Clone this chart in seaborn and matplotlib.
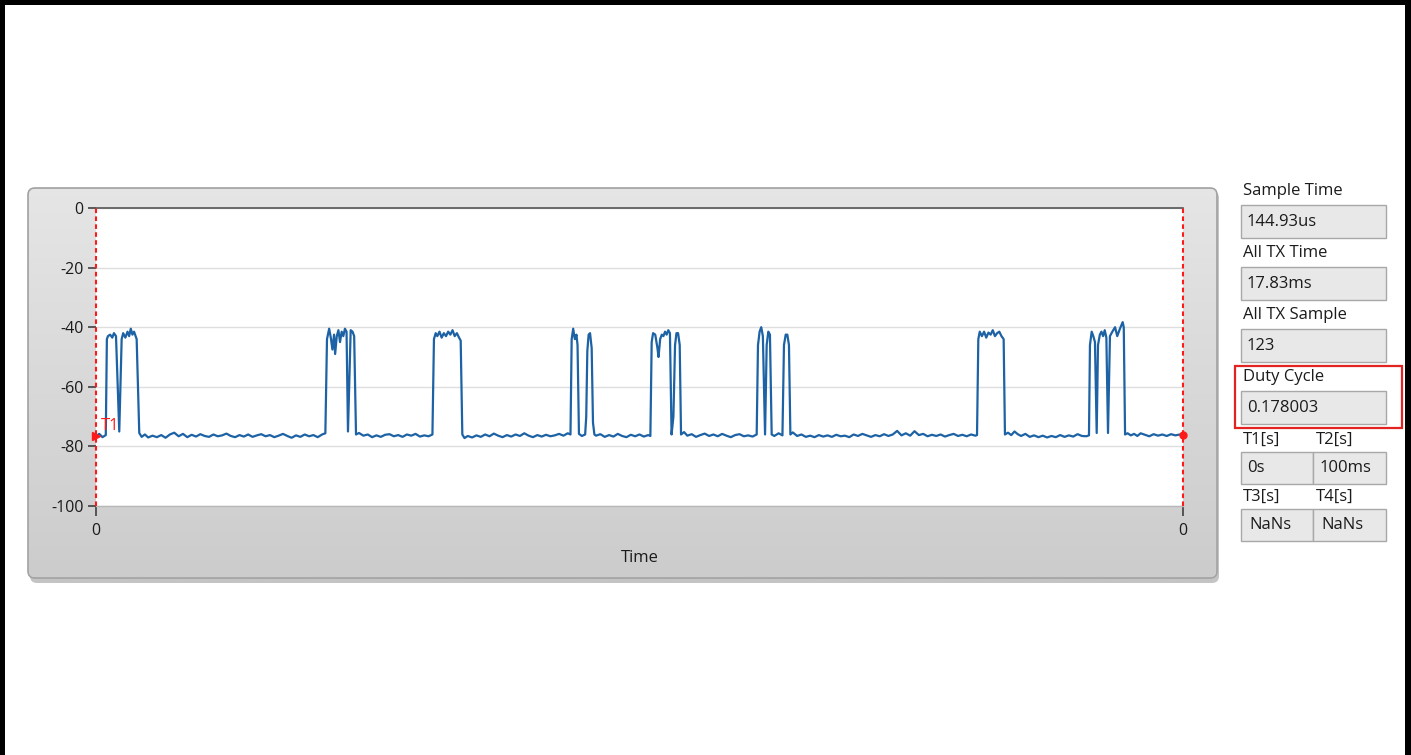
import numpy as np
import matplotlib
matplotlib.use("Agg")
import matplotlib.pyplot as plt
from matplotlib.patches import FancyBboxPatch, Rectangle
import seaborn as sns

# ---------------- data ----------------
time_ms = [
    0.0, 0.3, 0.6, 0.9,
    1.0, 1.1, 1.3, 1.5, 1.65, 1.84, 2.14, 2.36, 2.5, 2.7, 2.9, 3.05, 3.2, 3.35, 3.5, 3.65, 3.74, 3.98,
    4.2, 4.5, 4.8, 5.2, 5.6, 6.0, 6.4, 6.8, 7.2, 7.6, 8.0, 8.4, 8.8, 9.2, 9.6, 10.0, 10.4, 10.8,
    11.2, 11.6, 12.0, 12.4, 12.8, 13.2, 13.6, 14.0, 14.4, 14.8, 15.2, 15.6, 16.0, 16.4, 16.8,
    17.2, 17.6, 18.0, 18.4, 18.8, 19.2, 19.6, 20.0, 20.4, 20.8, 21.1,
    21.25, 21.45, 21.6, 21.75, 21.9, 22.0, 22.15, 22.3, 22.45, 22.6, 22.75, 22.9, 23.05, 23.18,
    23.43, 23.6, 23.75, 23.92,
    24.2, 24.6, 25.0, 25.4, 25.8, 26.2, 26.6, 27.0, 27.4, 27.8, 28.2, 28.6, 29.0, 29.4, 29.8,
    30.2, 30.6, 30.95,
    31.09, 31.25, 31.4, 31.6, 31.8, 32.0, 32.2, 32.4, 32.6, 32.8, 33.0, 33.2, 33.4, 33.55, 33.7,
    33.9, 34.2, 34.6, 35.0, 35.4, 35.8, 36.2, 36.6, 37.0, 37.4, 37.8, 38.2, 38.6, 39.0, 39.4,
    39.8, 40.2, 40.6, 41.0, 41.4, 41.8, 42.2, 42.6, 43.0, 43.4, 43.65,
    43.76, 43.9, 44.05, 44.2, 44.3, 44.43, 44.7, 45.0, 45.1, 45.2, 45.32, 45.45, 45.6, 45.72, 45.85,
    46.0, 46.4, 46.8, 47.2, 47.6, 48.0, 48.4, 48.8, 49.2, 49.6, 50.0, 50.4, 50.8, 51.0,
    51.12, 51.25, 51.45, 51.65, 51.75, 51.9, 52.05, 52.2, 52.35, 52.5, 52.65, 52.8, 52.95,
    53.12, 53.27, 53.4, 53.55, 53.7, 53.82,
    54.1, 54.4, 54.8, 55.2, 55.6, 56.0, 56.4, 56.8, 57.2, 57.6, 58.0, 58.4, 58.8, 59.2, 59.6,
    60.0, 60.4, 60.78,
    60.9, 61.05, 61.2, 61.35, 61.45, 61.55, 61.7, 61.85, 62.0, 62.16,
    62.4, 62.8, 63.15,
    63.29, 63.45, 63.6, 63.75, 63.88,
    64.1, 64.5, 64.9, 65.3, 65.7, 66.1, 66.5, 66.9, 67.3, 67.7, 68.1, 68.5, 68.9, 69.3, 69.7,
    70.1, 70.5, 70.9, 71.3, 71.7, 72.1, 72.5, 72.9, 73.3, 73.7, 74.1, 74.5, 74.9, 75.3, 75.7,
    76.1, 76.5, 76.9, 77.3, 77.7, 78.1, 78.5, 78.9, 79.3, 79.7, 80.1, 80.5, 80.9, 81.05,
    81.17, 81.3, 81.5, 81.7, 81.9, 82.1, 82.3, 82.5, 82.7, 82.9, 83.1, 83.3, 83.5, 83.62,
    83.9, 84.2, 84.5, 84.8, 85.1, 85.5, 85.9, 86.3, 86.7, 87.1, 87.5, 87.9, 88.3, 88.7, 89.1,
    89.5, 89.9, 90.3, 90.7, 91.1, 91.35,
    91.44, 91.6, 91.75, 91.9, 92.06, 92.18, 92.35, 92.5, 92.65, 92.8, 92.95, 93.1,
    93.28, 93.5, 93.75, 93.95, 94.2, 94.45, 94.55, 94.67,
    94.9, 95.2, 95.5, 95.8, 96.1, 96.5, 96.9, 97.3, 97.7, 98.1, 98.5, 98.9, 99.3, 99.7, 100.0,
]

level_db = [
    -76.5, -75.8, -76.9, -76.2,
    -44.0, -43.0, -42.5, -43.5, -42.0, -43.0, -75.0, -44.0, -42.0, -43.5, -41.5, -43.0, -40.5, -42.5, -41.5, -43.0, -44.0, -75.5,
    -76.8, -76.0, -77.0, -76.4, -76.9, -76.2, -77.1, -76.0, -75.4, -76.6, -75.8, -76.9, -76.1, -76.7, -75.9, -76.5, -76.8, -76.0,
    -76.6, -76.3, -75.7, -76.5, -76.9, -76.2, -76.7, -76.0, -76.8, -76.3, -75.9, -76.6, -76.2, -76.9, -76.4,
    -75.8, -76.5, -77.1, -76.3, -76.8, -76.0, -76.6, -76.2, -76.9, -76.0, -75.6,
    -44.0, -40.5, -43.5, -47.5, -42.5, -49.0, -43.0, -41.0, -45.0, -41.5, -43.0, -40.5, -41.5, -75.0,
    -41.0, -41.5, -43.0, -76.0,
    -75.5, -76.4, -76.0, -76.9, -76.3, -76.8, -76.1, -75.9, -76.6, -76.2, -76.8, -76.0, -76.4, -75.8, -76.7,
    -76.3, -76.6, -76.0,
    -44.0, -42.0, -43.0, -41.5, -43.5, -42.0, -43.0, -41.5, -42.5, -41.0, -43.0, -42.0, -43.5, -44.5, -76.0,
    -77.2, -76.5, -77.0, -76.3, -76.8, -76.0, -76.6, -75.7, -76.4, -76.9, -76.2, -76.7, -76.0, -76.5, -75.6,
    -76.4, -76.9, -76.2, -76.7, -76.1, -76.6, -76.3, -75.8, -76.4, -75.6, -76.0,
    -44.0, -40.5, -44.0, -42.5, -46.0, -75.8, -76.5, -76.0, -70.0, -48.0, -42.5, -42.0, -47.0, -72.0, -76.0,
    -76.4, -75.9, -76.8, -76.2, -76.7, -75.8, -76.5, -76.9, -76.1, -76.6, -76.0, -76.7, -76.2, -76.5,
    -45.0, -42.0, -42.5, -47.0, -50.0, -44.0, -42.5, -43.0, -41.5, -42.5, -41.0, -42.0, -76.0,
    -70.0, -46.0, -42.0, -42.0, -46.0, -76.0,
    -75.2, -76.4, -75.9, -76.8, -76.2, -75.7, -76.5, -76.0, -76.6, -75.8, -76.4, -76.9, -76.2, -75.9, -76.6,
    -76.3, -76.7, -76.0,
    -46.0, -41.5, -40.0, -43.0, -60.0, -76.0, -46.0, -41.5, -42.5, -76.0,
    -76.5, -75.6, -76.3,
    -46.0, -42.5, -42.5, -46.0, -76.0,
    -75.3, -76.5, -76.0, -76.8, -76.4, -76.9, -76.2, -76.7, -76.3, -76.8, -76.1, -76.6, -76.4, -76.9, -76.0,
    -76.5, -75.8, -76.3, -76.8, -76.2, -76.6, -75.9, -76.5, -76.0, -74.8, -76.3, -75.6, -76.4, -74.9, -76.2,
    -75.8, -76.6, -76.1, -76.5, -76.0, -76.7, -76.2, -75.8, -76.5, -76.1, -76.6, -76.0, -76.4, -76.2,
    -44.0, -41.5, -43.0, -41.5, -43.5, -41.8, -42.5, -41.0, -43.0, -42.0, -41.5, -43.0, -44.0, -76.0,
    -75.4, -76.2, -75.0, -75.9, -76.5, -75.8, -76.8, -76.3, -76.9, -76.4, -77.0, -76.5, -76.9, -76.2, -76.8,
    -76.3, -76.7, -75.9, -76.5, -76.6, -76.3,
    -46.0, -41.5, -43.0, -45.0, -75.5, -46.0, -42.5, -41.5, -43.0, -41.0, -43.5, -75.5,
    -43.0, -41.5, -40.0, -43.0, -40.5, -38.3, -40.0, -76.0,
    -75.6, -76.3, -75.8, -76.5, -75.6, -76.1, -76.6, -75.9, -76.4, -76.0, -76.5, -75.9, -76.3, -76.0, -76.2,
]

y_ticks = [0, -20, -40, -60, -80, -100]
x_ticks = [0, 100]
x_tick_labels = ["0", "0"]
x_label = "Time"
cursor_label = "T1"

field_labels = ["Sample Time", "All TX Time", "All TX Sample", "Duty Cycle"]
field_values = ["144.93us", "17.83ms", "123", "0.178003"]
cursor_labels = ["T1[s]", "T2[s]", "T3[s]", "T4[s]"]
cursor_values = ["0s", "100ms", "NaNs", "NaNs"]

# ---------------- style ----------------
sns.set_style("white")
plt.rcParams["font.family"] = ["Open Sans", "DejaVu Sans"]
TXT = "#1b1b1b"

W, H = 1411, 755
fig = plt.figure(figsize=(W / 100, H / 100), dpi=100)
fig.patch.set_facecolor("white")

# background axes in pixel coordinates
bg = fig.add_axes([0, 0, 1, 1])
bg.axis("off")

# panel shadow + panel
shadow = FancyBboxPatch((30, 191), 1189, 392, boxstyle="round,pad=0,rounding_size=7",
                        facecolor="#c4c4c4", edgecolor="none", zorder=1)
bg.add_patch(shadow)
panel = FancyBboxPatch((28, 188), 1189, 390, boxstyle="round,pad=0,rounding_size=7",
                       facecolor="#d5d5d5", edgecolor="#a2a2a2", linewidth=1.2, zorder=2)
bg.add_patch(panel)
grad = np.linspace(0, 1, 200)[:, None]
top_c = np.array([0.90, 0.90, 0.90])
bot_c = np.array([0.80, 0.80, 0.80])
img = top_c[None, None, :] * (1 - grad[:, :, None]) + bot_c[None, None, :] * grad[:, :, None]
im = bg.imshow(img, extent=(29, 1216, 577, 189), aspect="auto", zorder=2.5, origin="upper")
clip = FancyBboxPatch((29, 189), 1187, 388, boxstyle="round,pad=0,rounding_size=6",
                      facecolor="none", edgecolor="none", transform=bg.transData)
bg.add_patch(clip)
im.set_clip_path(clip)

# outer black frame
bg.add_patch(Rectangle((0, 0), W, 5, facecolor="black", edgecolor="none", zorder=5))
bg.add_patch(Rectangle((0, 0), 5, H, facecolor="black", edgecolor="none", zorder=5))
bg.add_patch(Rectangle((1405, 0), 6, H, facecolor="black", edgecolor="none", zorder=5))

# right side indicators
label_y = [191, 253, 315, 377]
box_y = [205, 267, 329, 391]
for lab, val, ly, by in zip(field_labels, field_values, label_y, box_y):
    bg.text(1243, ly, lab, fontsize=12, color=TXT, ha="left", va="center", zorder=6)
    bg.add_patch(Rectangle((1241, by), 145, 33, facecolor="#e8e8e8", edgecolor="#a8a8a8",
                           linewidth=1, zorder=6))
    bg.text(1247, by + 17, val, fontsize=12, color=TXT, ha="left", va="center", zorder=7)

bg.add_patch(Rectangle((1235, 366), 167, 62, facecolor="none", edgecolor="#e32222",
                       linewidth=1.6, zorder=8))

cur_label_pos = [(1243, 440), (1316, 440), (1243, 497), (1316, 497)]
cur_box = [(1241, 452, 72), (1313, 452, 73), (1241, 509, 72), (1313, 509, 73)]
cur_val_x = [1247, 1320, 1249, 1321]
for lab, val, (lx, ly), (bx, by, bw), vx in zip(cursor_labels, cursor_values, cur_label_pos, cur_box, cur_val_x):
    bg.text(lx, ly, lab, fontsize=12, color=TXT, ha="left", va="center", zorder=6)
    bg.add_patch(Rectangle((bx, by), bw, 32, facecolor="#e8e8e8", edgecolor="#a8a8a8",
                           linewidth=1, zorder=6))
    bg.text(vx, by + 16, val, fontsize=12, color=TXT, ha="left", va="center", zorder=7)

bg.set_xlim(0, W)
bg.set_ylim(H, 0)

# ---------------- data axes ----------------
ax = fig.add_axes([96 / W, (H - 506) / H, (1183 - 96) / W, (506 - 208) / H])
ax.set_facecolor("white")
sns.lineplot(x=time_ms, y=level_db, ax=ax, color="#1d62a4", linewidth=1.6,
             estimator=None, sort=False, zorder=3)
ax.set_xlim(0, 100)
ax.set_ylim(-100, 0)
ax.set_yticks(y_ticks)
ax.set_yticklabels([str(v) for v in y_ticks])
ax.set_xticks(x_ticks)
ax.set_xticklabels(x_tick_labels)
ax.tick_params(axis="both", direction="out", length=6, width=1.1, color="#333333",
               labelsize=11.5, labelcolor=TXT, pad=3, left=True, bottom=True)
ax.tick_params(axis="x", pad=5, length=7)
ax.grid(axis="y", color="#dedede", linewidth=1)
ax.set_axisbelow(True)
ax.set_xlabel(x_label, fontsize=12, color=TXT, labelpad=8)
ax.set_ylabel("")
for side in ["left", "right"]:
    ax.spines[side].set_visible(False)
ax.spines["top"].set_color("#555555")
ax.spines["top"].set_linewidth(1.2)
ax.spines["bottom"].set_color("#b8b8b8")
ax.spines["bottom"].set_linewidth(1)

# cursors
ax.axvline(x_ticks[0], color="#ff1a1a", linestyle=(0, (2.2, 1.6)), linewidth=1.5, zorder=4, clip_on=False)
ax.axvline(x_ticks[1], color="#ff1a1a", linestyle=(0, (2.2, 1.6)), linewidth=1.5, zorder=4, clip_on=False)
ax.plot([time_ms[0]], [level_db[0]], marker=">", color="#ff1a1a", markersize=6, zorder=5, clip_on=False)
ax.plot([time_ms[-1]], [level_db[-1]], marker="o", color="#ff1a1a", markersize=5, zorder=5, clip_on=False)
ax.text(0.45, -73.0, cursor_label, color="#ff1a1a", fontsize=12, ha="left", va="center", zorder=5)

fig.savefig("out.png", dpi=100)
